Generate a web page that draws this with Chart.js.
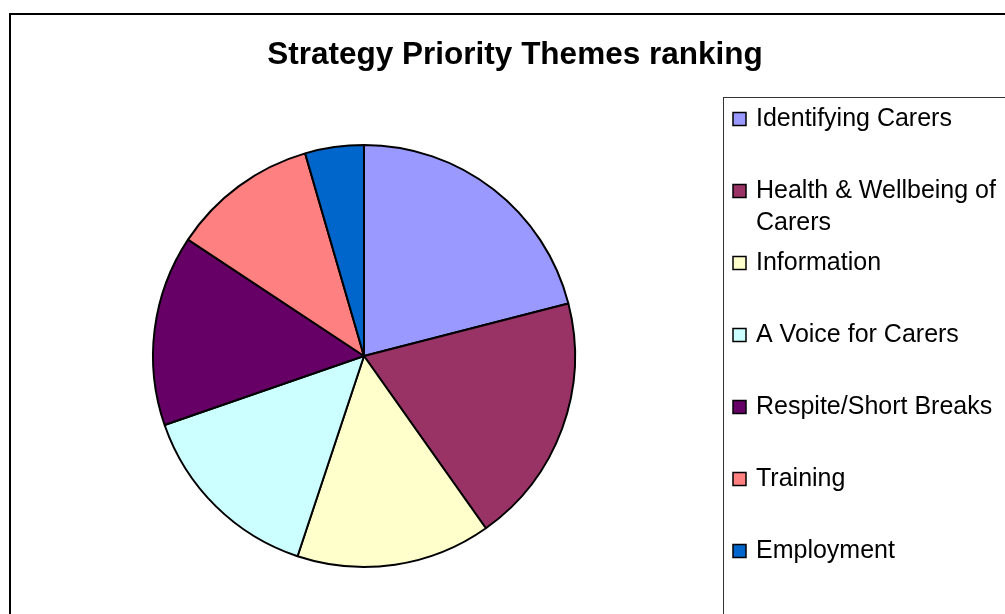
<!DOCTYPE html>
<html>
<head>
<meta charset="utf-8">
<title>Strategy Priority Themes ranking</title>
<script src="https://cdn.jsdelivr.net/npm/chart.js@4.4.1/dist/chart.umd.min.js"></script>
<style>
  html, body { margin: 0; padding: 0; background: #fff; }
  #wrap { position: relative; width: 1005px; height: 614px; }
</style>
</head>
<body>
<div id="wrap"><canvas id="chart"></canvas></div>
<script>
const chartTitle = 'Strategy Priority Themes ranking';
const categories = [
  'Identifying Carers',
  'Health & Wellbeing of Carers',
  'Information',
  'A Voice for Carers',
  'Respite/Short Breaks',
  'Training',
  'Employment'
];
const rankingShare = [21.0, 19.2, 14.9, 14.6, 14.6, 11.2, 4.5];
const sliceColors = ['#9999FF', '#993366', '#FFFFCC', '#CCFFFF', '#660066', '#FF8080', '#0066CC'];

const FONT = '"Liberation Sans", Arial, sans-serif';

// split a legend label into lines that fit the given width
const wrapText = (ctx, text, maxWidth) => {
  const words = text.split(' ');
  const lines = [];
  let line = '';
  words.forEach(w => {
    const test = line ? line + ' ' + w : w;
    if (line && ctx.measureText(test).width > maxWidth) {
      lines.push(line);
      line = w;
    } else {
      line = test;
    }
  });
  if (line) lines.push(line);
  return lines;
};

// outer frame and title behind the pie
const framePlugin = {
  id: 'frame',
  beforeDraw(chart) {
    const ctx = chart.ctx;
    ctx.save();
    ctx.fillStyle = '#fff';
    ctx.fillRect(0, 0, chart.width, chart.height);
    ctx.strokeStyle = '#000';
    ctx.lineWidth = 2;
    ctx.strokeRect(10, 14, chart.width + 20, chart.height + 20);

    ctx.fillStyle = '#000';
    ctx.font = 'bold 31.5px ' + FONT;
    ctx.textAlign = 'center';
    ctx.textBaseline = 'alphabetic';
    ctx.fillText(chartTitle, 515, 64);
    ctx.restore();
  }
};

// boxed legend on the right, like the spreadsheet original
const boxLegendPlugin = {
  id: 'boxLegend',
  afterDraw(chart) {
    const ctx = chart.ctx;
    const boxLeft = 723, boxTop = 97;
    const markX = 733, markSize = 13;
    const textX = 756;
    const firstY = 119, rowStep = 72, lineStep = 32;

    ctx.save();
    ctx.strokeStyle = '#333';
    ctx.lineWidth = 1;
    ctx.strokeRect(boxLeft + 0.5, boxTop + 0.5, chart.width, chart.height);

    ctx.font = '25px ' + FONT;
    ctx.textAlign = 'left';
    ctx.textBaseline = 'middle';
    const bg = chart.data.datasets[0].backgroundColor;
    chart.data.labels.forEach((label, i) => {
      const y = firstY + i * rowStep;
      ctx.fillStyle = bg[i];
      ctx.fillRect(markX, y - markSize / 2, markSize, markSize);
      ctx.strokeStyle = '#000';
      ctx.lineWidth = 1.5;
      ctx.strokeRect(markX, y - markSize / 2, markSize, markSize);
      ctx.fillStyle = '#000';
      const lines = wrapText(ctx, label, 262);
      lines.forEach((ln, j) => ctx.fillText(ln, textX, y + j * lineStep));
    });
    ctx.restore();
  }
};

new Chart(document.getElementById('chart'), {
  type: 'pie',
  data: {
    labels: categories,
    datasets: [{
      data: rankingShare,
      backgroundColor: sliceColors,
      borderColor: '#000',
      borderWidth: 2
    }]
  },
  options: {
    responsive: true,
    maintainAspectRatio: false,
    animation: false,
    events: [],
    layout: {
      padding: { left: 152, right: 429, top: 144, bottom: 46 }
    },
    plugins: {
      legend: { display: false },
      title: { display: false },
      tooltip: { enabled: false }
    }
  },
  plugins: [framePlugin, boxLegendPlugin]
});
</script>
</body>
</html>
